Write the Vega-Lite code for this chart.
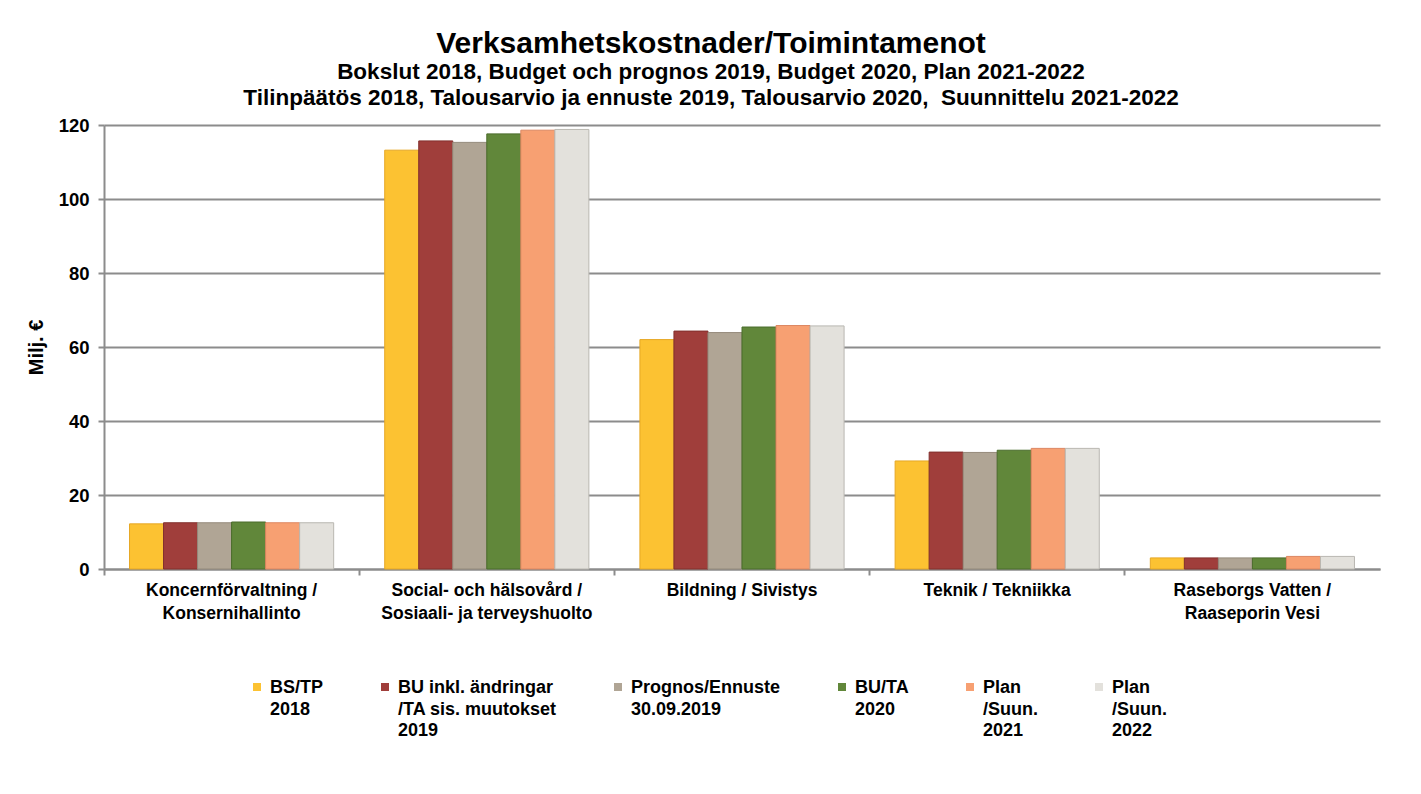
{
  "$schema": "https://vega.github.io/schema/vega-lite/v6.json",
  "autosize": "none",
  "width": 1276,
  "height": 444,
  "padding": {"left": 104, "top": 125, "right": 41, "bottom": 225},
  "background": "white",
  "title": {
    "text": "Verksamhetskostnader/Toimintamenot",
    "subtitle": ["Bokslut 2018, Budget och prognos 2019, Budget 2020, Plan 2021-2022", "Tilinpäätös 2018, Talousarvio ja ennuste 2019, Talousarvio 2020, \u00a0Suunnittelu 2021-2022"],
    "anchor": "middle",
    "frame": "group",
    "dx": -31,
    "font": "Liberation Sans",
    "fontSize": 30,
    "fontWeight": "bold",
    "color": "black",
    "subtitleFont": "Liberation Sans",
    "subtitleFontSize": 22.5,
    "subtitleFontWeight": "bold",
    "subtitleColor": "black",
    "subtitlePadding": 2,
    "subtitleLineHeight": 26,
    "offset": 7
  },
  "data": {
    "values": [
      {"category": "Koncernförvaltning /\nKonsernihallinto", "series": "BS/TP\n\u00a02018\n\u00a0", "value": 12.2},
      {"category": "Koncernförvaltning /\nKonsernihallinto", "series": "BU inkl. ändringar\n/TA sis. muutokset\n2019", "value": 12.5},
      {"category": "Koncernförvaltning /\nKonsernihallinto", "series": "Prognos/Ennuste\n30.09.2019\n\u00a0", "value": 12.5},
      {"category": "Koncernförvaltning /\nKonsernihallinto", "series": "BU/TA\n2020\n\u00a0", "value": 12.7},
      {"category": "Koncernförvaltning /\nKonsernihallinto", "series": "Plan\n/Suun.\n\u00a02021", "value": 12.5},
      {"category": "Koncernförvaltning /\nKonsernihallinto", "series": "Plan\n/Suun.\n\u00a02022", "value": 12.5},
      {"category": "Social- och hälsovård /\nSosiaali- ja terveyshuolto", "series": "BS/TP\n\u00a02018\n\u00a0", "value": 113.2},
      {"category": "Social- och hälsovård /\nSosiaali- ja terveyshuolto", "series": "BU inkl. ändringar\n/TA sis. muutokset\n2019", "value": 115.7},
      {"category": "Social- och hälsovård /\nSosiaali- ja terveyshuolto", "series": "Prognos/Ennuste\n30.09.2019\n\u00a0", "value": 115.3},
      {"category": "Social- och hälsovård /\nSosiaali- ja terveyshuolto", "series": "BU/TA\n2020\n\u00a0", "value": 117.6},
      {"category": "Social- och hälsovård /\nSosiaali- ja terveyshuolto", "series": "Plan\n/Suun.\n\u00a02021", "value": 118.6},
      {"category": "Social- och hälsovård /\nSosiaali- ja terveyshuolto", "series": "Plan\n/Suun.\n\u00a02022", "value": 118.8},
      {"category": "Bildning / Sivistys", "series": "BS/TP\n\u00a02018\n\u00a0", "value": 62.0},
      {"category": "Bildning / Sivistys", "series": "BU inkl. ändringar\n/TA sis. muutokset\n2019", "value": 64.3},
      {"category": "Bildning / Sivistys", "series": "Prognos/Ennuste\n30.09.2019\n\u00a0", "value": 63.9},
      {"category": "Bildning / Sivistys", "series": "BU/TA\n2020\n\u00a0", "value": 65.4},
      {"category": "Bildning / Sivistys", "series": "Plan\n/Suun.\n\u00a02021", "value": 65.8},
      {"category": "Bildning / Sivistys", "series": "Plan\n/Suun.\n\u00a02022", "value": 65.7},
      {"category": "Teknik / Tekniikka", "series": "BS/TP\n\u00a02018\n\u00a0", "value": 29.2},
      {"category": "Teknik / Tekniikka", "series": "BU inkl. ändringar\n/TA sis. muutokset\n2019", "value": 31.6},
      {"category": "Teknik / Tekniikka", "series": "Prognos/Ennuste\n30.09.2019\n\u00a0", "value": 31.5},
      {"category": "Teknik / Tekniikka", "series": "BU/TA\n2020\n\u00a0", "value": 32.1},
      {"category": "Teknik / Tekniikka", "series": "Plan\n/Suun.\n\u00a02021", "value": 32.6},
      {"category": "Teknik / Tekniikka", "series": "Plan\n/Suun.\n\u00a02022", "value": 32.6},
      {"category": "Raseborgs Vatten /\nRaaseporin Vesi", "series": "BS/TP\n\u00a02018\n\u00a0", "value": 3.0},
      {"category": "Raseborgs Vatten /\nRaaseporin Vesi", "series": "BU inkl. ändringar\n/TA sis. muutokset\n2019", "value": 3.0},
      {"category": "Raseborgs Vatten /\nRaaseporin Vesi", "series": "Prognos/Ennuste\n30.09.2019\n\u00a0", "value": 3.0},
      {"category": "Raseborgs Vatten /\nRaaseporin Vesi", "series": "BU/TA\n2020\n\u00a0", "value": 3.0},
      {"category": "Raseborgs Vatten /\nRaaseporin Vesi", "series": "Plan\n/Suun.\n\u00a02021", "value": 3.4},
      {"category": "Raseborgs Vatten /\nRaaseporin Vesi", "series": "Plan\n/Suun.\n\u00a02022", "value": 3.4}
    ]
  },
  "mark": {"type": "bar", "strokeWidth": 1},
  "encoding": {
    "x": {
      "field": "category",
      "type": "nominal",
      "sort": null,
      "scale": {"paddingInner": 0.2, "paddingOuter": 0.1},
      "axis": {
        "title": null,
        "labelAngle": 0,
        "labelFont": "Liberation Sans",
        "labelFontSize": 17.5,
        "labelFontWeight": "bold",
        "labelColor": "black",
        "labelBaseline": "top",
        "labelPadding": 6,
        "labelLineHeight": 23,
        "labelLimit": 0,
        "labelExpr": "split(datum.label, '\\n')",
        "domainColor": "#8c8c8c",
        "domainWidth": 2,
        "tickColor": "#8c8c8c",
        "tickWidth": 2,
        "tickSize": 6,
        "bandPosition": -0.125
      }
    },
    "xOffset": {"field": "series", "type": "nominal", "sort": null},
    "y": {
      "field": "value",
      "type": "quantitative",
      "scale": {"domain": [0, 120]},
      "axis": {
        "values": [0, 20, 40, 60, 80, 100, 120],
        "grid": true,
        "gridColor": "#8c8c8c",
        "gridWidth": 2,
        "domainColor": "#8c8c8c",
        "domainWidth": 2,
        "tickColor": "#8c8c8c",
        "tickWidth": 2,
        "tickSize": 6,
        "labelFont": "Liberation Sans",
        "labelFontSize": 18.5,
        "labelFontWeight": "bold",
        "labelColor": "black",
        "labelPadding": 9,
        "title": "Milj. €",
        "titleFont": "Liberation Sans",
        "titleFontSize": 20,
        "titleFontWeight": "bold",
        "titleColor": "black",
        "titlePadding": 12
      }
    },
    "color": {
      "field": "series",
      "type": "nominal",
      "sort": null,
      "scale": {
        "domain": ["BS/TP\n\u00a02018\n\u00a0", "BU inkl. ändringar\n/TA sis. muutokset\n2019", "Prognos/Ennuste\n30.09.2019\n\u00a0", "BU/TA\n2020\n\u00a0", "Plan\n/Suun.\n\u00a02021", "Plan\n/Suun.\n\u00a02022"],
        "range": ["#FCC232", "#A03E3B", "#B0A595", "#61873A", "#F7A072", "#E3E1DC"]
      },
      "legend": {
        "orient": "none",
        "legendX": 144,
        "legendY": 553,
        "direction": "horizontal",
        "title": null,
        "symbolType": "square",
        "symbolSize": 64,
        "symbolStrokeWidth": 0,
        "labelFont": "Liberation Sans",
        "labelFontSize": 18,
        "labelFontWeight": "bold",
        "labelColor": "black",
        "labelBaseline": "top",
        "labelOffset": 4,
        "labelLimit": 0,
        "columnPadding": 52,
        "labelExpr": "split(datum.label, '\\n')",
        "encode": {"labels": {"update": {"dy": {"value": -8}}}}
      }
    },
    "stroke": {
      "field": "series",
      "type": "nominal",
      "sort": null,
      "scale": {
        "domain": ["BS/TP\n\u00a02018\n\u00a0", "BU inkl. ändringar\n/TA sis. muutokset\n2019", "Prognos/Ennuste\n30.09.2019\n\u00a0", "BU/TA\n2020\n\u00a0", "Plan\n/Suun.\n\u00a02021", "Plan\n/Suun.\n\u00a02022"],
        "range": ["#E6A724", "#82302D", "#958A7B", "#4A6C2B", "#DC8660", "#B9B7B1"]
      },
      "legend": null
    }
  },
  "config": {
    "view": {"stroke": null},
    "style": {"guide-label": {"lineHeight": 21.5}}
  }
}
